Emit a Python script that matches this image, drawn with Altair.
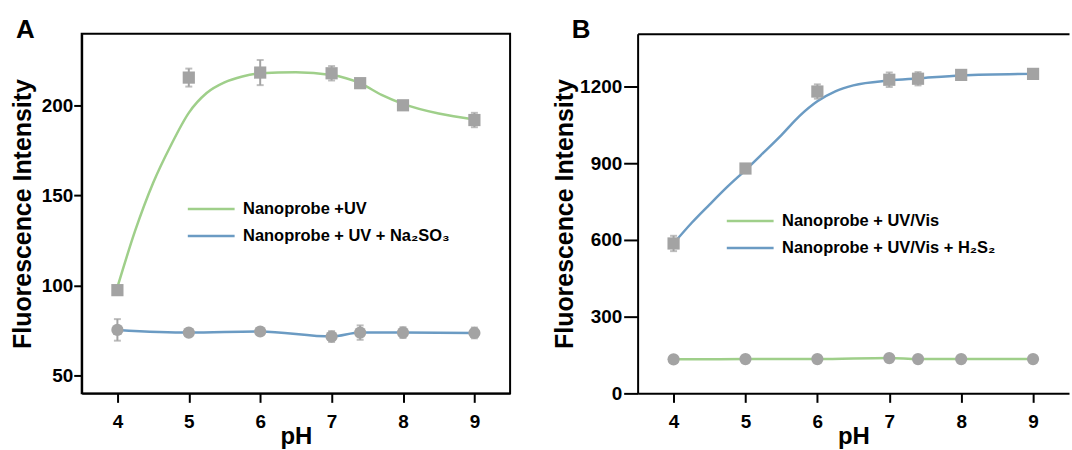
import altair as alt
import pandas as pd

# ---------------- data ----------------
ph = [4, 5, 6, 7, 7.4, 8, 9]

# Panel A
a_uv = [97.4, 215.6, 218.4, 218.0, 212.5, 200.2, 192.0]
a_uv_err = [2, 5, 7, 4, 2, 2, 4]
a_na = [75.3, 73.8, 74.4, 71.6, 73.8, 73.8, 73.6]
a_na_err = [6, 1, 2, 3, 4, 3, 3]
a_fit_ph = [4, 4.25, 4.5, 4.75, 5, 5.25, 5.5, 5.75, 6, 6.5, 7, 7.4, 7.7, 8, 8.5, 9]
a_fit = [99, 130.6, 157, 178, 196, 207, 212.9, 216.2, 218, 218.6, 217.1, 212.5, 206, 201, 195.6, 192.3]

# Panel B
b_h2s2 = [586, 879, 1180, 1226, 1230, 1245, 1249]
b_h2s2_err = [30, 10, 28, 28, 26, 12, 18]
b_uv = [133, 134, 134, 138, 134, 134, 134]
b_uv_err = [5, 5, 5, 5, 5, 5, 5]
b_fit_ph = [4, 4.25, 4.5, 4.75, 5, 5.25, 5.5, 5.75, 6, 6.25, 6.5, 7, 7.4, 8, 9]
b_fit = [586, 666, 738, 808, 873, 941, 1010, 1084, 1142, 1181, 1204, 1223, 1231, 1243, 1249]

a_labels = ["Nanoprobe +UV", "Nanoprobe + UV + Na\u2082SO\u2083"]
b_labels = ["Nanoprobe + UV/Vis", "Nanoprobe + UV/Vis  + H\u2082S\u2082"]

x_ticks = [4, 5, 6, 7, 8, 9]
a_y_ticks = [50, 100, 150, 200]
b_y_ticks = [0, 300, 600, 900, 1200]

GREEN = "#9fcf8a"
BLUE = "#6b9bc3"
GRAY = "#a3a3a3"
FONT = "Liberation Sans"


def pts(vals, errs):
    return pd.DataFrame({
        "pH": ph,
        "v": vals,
        "lo": [v - e for v, e in zip(vals, errs)],
        "hi": [v + e for v, e in zip(vals, errs)],
    })


def x_axis():
    return alt.Axis(values=x_ticks, format="d", title="pH", grid=False,
                    tickSize=9, tickWidth=2, tickColor="black",
                    domainColor="black", domainWidth=2,
                    labelFont=FONT, labelFontSize=19, labelFontWeight="bold",
                    labelColor="black", labelPadding=10,
                    titleFont=FONT, titleFontSize=24, titleFontWeight="bold",
                    titleColor="black", titlePadding=-7)


def y_axis(values, tick, label_pad, title_pad):
    return alt.Axis(values=values, format="d", title="Fluorescence Intensity", grid=False,
                    tickSize=tick, tickWidth=2, tickColor="black",
                    domainColor="black", domainWidth=2,
                    labelFont=FONT, labelFontSize=19, labelFontWeight="bold",
                    labelColor="black", labelPadding=label_pad,
                    titleFont=FONT, titleFontSize=25, titleFontWeight="bold",
                    titleColor="black", titlePadding=title_pad)


def panel(letter, xs, ys, yax, lines_df, labels, sq_df, ci_df,
          legx, legy, width, height, top_axis):
    color = alt.Color("series:N", scale=alt.Scale(domain=labels, range=[GREEN, BLUE]),
                      legend=alt.Legend(orient="none", legendX=legx, legendY=legy, title=None,
                                        symbolType="M-2,0H2", symbolSize=552,
                                        symbolStrokeWidth=2.5, labelFont=FONT,
                                        labelFontSize=16.5, labelFontWeight="bold",
                                        labelColor="black", labelOffset=19, labelLimit=400,
                                        rowPadding=5, padding=0))
    lines = alt.Chart(lines_df).mark_line(strokeWidth=2.5, interpolate="monotone").encode(
        x=alt.X("pH:Q", scale=xs, axis=x_axis()),
        y=alt.Y("v:Q", scale=ys, axis=yax),
        color=color,
    )
    layers = [lines]
    X = alt.X("pH:Q", scale=xs, axis=None)
    for df, shape, size in [(sq_df, "square", 150), (ci_df, "circle", 150)]:
        rule = alt.Chart(df).mark_rule(color=GRAY, strokeWidth=2).encode(
            x=X, y=alt.Y("lo:Q", scale=ys, axis=yax), y2="hi:Q")
        cap_lo = alt.Chart(df).mark_tick(color=GRAY, thickness=2, size=7, orient="horizontal").encode(
            x=X, y=alt.Y("lo:Q", scale=ys, axis=yax))
        cap_hi = alt.Chart(df).mark_tick(color=GRAY, thickness=2, size=7, orient="horizontal").encode(
            x=X, y=alt.Y("hi:Q", scale=ys, axis=yax))
        mk = alt.Chart(df).mark_point(shape=shape, filled=True, size=size, color=GRAY, opacity=1).encode(
            x=X, y=alt.Y("v:Q", scale=ys, axis=yax))
        layers += [rule, cap_lo, cap_hi, mk]
    if top_axis:
        layers.append(alt.Chart(sq_df).mark_point(opacity=0).encode(
            x=alt.X("pH:Q", scale=xs, axis=alt.Axis(orient="top", labels=False, ticks=False,
                                                      title=None, grid=False, domainColor="black",
                                                      domainWidth=2)),
            y=alt.Y("v:Q", scale=ys, axis=yax)))
    ch = alt.layer(*layers).resolve_axis(x="independent").properties(
        width=width, height=height,
        title=alt.TitleParams(letter, anchor="start", frame="group", dx=-66, fontSize=26,
                              font=FONT, fontWeight="bold", color="black", offset=-9),
        view=alt.ViewBackground(stroke="black" if not top_axis else "transparent", strokeWidth=2),
    )
    return ch


a_lines = pd.concat([
    pd.DataFrame({"pH": a_fit_ph, "v": a_fit, "series": a_labels[0]}),
    pd.DataFrame({"pH": ph, "v": a_na, "series": a_labels[1]}),
])
b_lines = pd.concat([
    pd.DataFrame({"pH": ph, "v": b_uv, "series": b_labels[0]}),
    pd.DataFrame({"pH": b_fit_ph, "v": b_fit, "series": b_labels[1]}),
])

xsA = alt.Scale(domain=[3.5, 9.5], nice=False, zero=False)
ysA = alt.Scale(domain=[40, 240], nice=False, zero=False)
xsB = alt.Scale(domain=[3.5, 9.5], nice=False, zero=False)
ysB = alt.Scale(domain=[0, 1406], nice=False, zero=False)

chA = panel("A", xsA, ysA, y_axis(a_y_ticks, 8, 1, 6), a_lines, a_labels,
            pts(a_uv, a_uv_err), pts(a_na, a_na_err), 117, 163, 430, 361, False)
chB = panel("B", xsB, ysB, y_axis(b_y_ticks, 14, 2, 2), b_lines, b_labels,
            pts(b_h2s2, b_h2s2_err), pts(b_uv, b_uv_err), 100, 175, 433, 361, True)

chart = alt.hconcat(chA, chB, spacing=40).resolve_scale(color="independent").properties(
    padding={"left": 9, "top": 15, "right": 2, "bottom": 0}
).configure(background="white")

chart.save("out.html", embed_options={"renderer": "svg", "actions": False})
